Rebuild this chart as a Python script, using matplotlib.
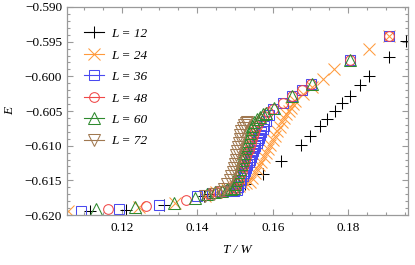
import numpy as np
import matplotlib
matplotlib.use("Agg")
import matplotlib.pyplot as plt
from matplotlib.lines import Line2D
from matplotlib.ticker import MultipleLocator, FuncFormatter

plt.rcParams['font.family'] = ['Liberation Serif', 'DejaVu Serif']
plt.rcParams['font.size'] = 9.5

# data
t12 = [0.1115, 0.1212, 0.1311, 0.1418, 0.1435, 0.1490, 0.1527, 0.1573, 0.1622, 0.1674,
       0.1700, 0.1724, 0.1745, 0.1766, 0.1784, 0.1805, 0.1830, 0.1856, 0.1908, 0.1952]
e12 = [-0.6194, -0.6193, -0.6186, -0.6172, -0.6170, -0.6162, -0.6156, -0.6141, -0.6122, -0.6099,
       -0.6086, -0.6072, -0.6062, -0.6050, -0.6039, -0.6028, -0.6013, -0.5999, -0.5972, -0.5949]

t24 = [0.1058, 0.1245, 0.1340, 0.1420, 0.1450, 0.1480, 0.1500, 0.1510, 0.1520, 0.1530,
       0.1540, 0.1546, 0.1552, 0.1558, 0.1564, 0.1570, 0.1576, 0.1582, 0.1588, 0.1594,
       0.1600, 0.1606, 0.1612, 0.1618, 0.1624, 0.1630, 0.1636, 0.1642, 0.1648, 0.1654,
       0.1660, 0.1680, 0.1705, 0.1733, 0.1763, 0.1856, 0.1907]
e24 = [-0.6194, -0.6189, -0.6182, -0.6172, -0.6167, -0.6163, -0.6160, -0.6158, -0.6156, -0.6154,
       -0.6152, -0.6146, -0.6140, -0.6134, -0.6128, -0.6123, -0.6117, -0.6111, -0.6105, -0.6099,
       -0.6092, -0.6086, -0.6079, -0.6073, -0.6066, -0.6060, -0.6055, -0.6050, -0.6045, -0.6040,
       -0.6035, -0.6025, -0.6015, -0.6004, -0.5990, -0.5960, -0.5942]

t36 = [0.1092, 0.1193, 0.1298, 0.1400, 0.1420, 0.1440, 0.1460, 0.1475, 0.1488, 0.1497,
       0.1505, 0.1509, 0.1513, 0.1517, 0.1521, 0.1524, 0.1527, 0.1530, 0.1533, 0.1536,
       0.1539, 0.1542, 0.1545, 0.1548, 0.1551, 0.1554, 0.1557, 0.1560, 0.1563, 0.1566,
       0.1569, 0.1573, 0.1577, 0.1582, 0.1590, 0.1600, 0.1627, 0.1651, 0.1677, 0.1702,
       0.1806, 0.1907]
e36 = [-0.6194, -0.6192, -0.6185, -0.6173, -0.6171, -0.6168, -0.6166, -0.6165, -0.6164, -0.6165,
       -0.6164, -0.6159, -0.6154, -0.6149, -0.6144, -0.6140, -0.6136, -0.6132, -0.6128, -0.6124,
       -0.6120, -0.6116, -0.6112, -0.6108, -0.6104, -0.6100, -0.6096, -0.6092, -0.6089, -0.6085,
       -0.6081, -0.6076, -0.6071, -0.6065, -0.6056, -0.6047, -0.6038, -0.6029, -0.6019, -0.6011,
       -0.5977, -0.5942]

t48 = [0.1163, 0.1265, 0.1369, 0.1430, 0.1452, 0.1470, 0.1485, 0.1495, 0.1502, 0.1506,
       0.1510, 0.1514, 0.1518, 0.1521, 0.1524, 0.1527, 0.1530, 0.1533, 0.1536, 0.1539,
       0.1542, 0.1545, 0.1548, 0.1551, 0.1554, 0.1558, 0.1563, 0.1569, 0.1576, 0.1588,
       0.1600, 0.1627, 0.1651, 0.1677, 0.1702, 0.1806, 0.1907]
e48 = [-0.6192, -0.6187, -0.6179, -0.6170, -0.6167, -0.6165, -0.6163, -0.6162, -0.6161, -0.6155,
       -0.6149, -0.6142, -0.6136, -0.6131, -0.6126, -0.6121, -0.6116, -0.6111, -0.6106, -0.6101,
       -0.6096, -0.6091, -0.6086, -0.6082, -0.6077, -0.6072, -0.6066, -0.6061, -0.6057, -0.6052,
       -0.6047, -0.6038, -0.6029, -0.6019, -0.6011, -0.5977, -0.5942]

t60 = [0.1133, 0.1236, 0.1338, 0.1393, 0.1425, 0.1448, 0.1465, 0.1480, 0.1490, 0.1497,
       0.1500, 0.1503, 0.1506, 0.1509, 0.1512, 0.1515, 0.1518, 0.1521, 0.1524, 0.1527,
       0.1530, 0.1533, 0.1536, 0.1539, 0.1542, 0.1546, 0.1551, 0.1557, 0.1565, 0.1574,
       0.1582, 0.1603, 0.1651, 0.1704, 0.1806]
e60 = [-0.6192, -0.6189, -0.6182, -0.6176, -0.6170, -0.6167, -0.6165, -0.6163, -0.6162, -0.6161,
       -0.6155, -0.6150, -0.6144, -0.6138, -0.6133, -0.6127, -0.6121, -0.6116, -0.6110, -0.6104,
       -0.6099, -0.6093, -0.6087, -0.6082, -0.6076, -0.6071, -0.6066, -0.6062, -0.6058, -0.6055,
       -0.6053, -0.6045, -0.6029, -0.6011, -0.5977]

t72 = [0.1420, 0.1445, 0.1462, 0.1472, 0.1480, 0.1486, 0.1490, 0.1494, 0.1497, 0.1500,
       0.1502, 0.1504, 0.1506, 0.1508, 0.1510, 0.1512, 0.1514, 0.1517, 0.1520, 0.1524,
       0.1528, 0.1533]
e72 = [-0.6172, -0.6169, -0.6167, -0.6162, -0.6156, -0.6150, -0.6144, -0.6138, -0.6132, -0.6126,
       -0.6120, -0.6114, -0.6108, -0.6102, -0.6096, -0.6090, -0.6084, -0.6079, -0.6074, -0.6070,
       -0.6068, -0.6066]

labels = ['L = 12', 'L = 24', 'L = 36', 'L = 48', 'L = 60', 'L = 72']
markers = ['+', 'x', 's', 'o', '^', 'v']
colors = ['#000000', '#FF9A3C', '#4A4AF0', '#F04848', '#2E8A2E', '#A07850']
sizes = [9, 8, 7, 7, 8, 8]

fig = plt.figure(figsize=(4.15, 2.65), dpi=100)
ax = fig.add_axes([67/415, 1-215/265, (407.5-67)/415, 208/265])

series = [(t12, e12), (t24, e24), (t36, e36), (t48, e48), (t60, e60), (t72, e72)]
handles = []
for (t, e), lab, m, c, s in zip(series, labels, markers, colors, sizes):
    ax.plot(t, e, linestyle='none', marker=m, ms=s, mfc='none', mec=c, mew=0.75)
    handles.append(Line2D([], [], color=c, lw=0.8, marker=m, ms=s, mfc='none', mec=c, mew=0.75))

ax.set_xlim(0.1055, 0.1957)
ax.set_ylim(-0.620, -0.590)
ax.xaxis.set_major_locator(MultipleLocator(0.02))
ax.xaxis.set_minor_locator(MultipleLocator(0.005))
ax.yaxis.set_major_locator(MultipleLocator(0.005))
ax.yaxis.set_minor_locator(MultipleLocator(0.001))
ax.xaxis.set_major_formatter(FuncFormatter(lambda v, p: '%.2f' % v))
ax.yaxis.set_major_formatter(FuncFormatter(lambda v, p: ('%.3f' % v).replace('-', '\u2212')))

grey = '#9a9a9a'
for sp in ax.spines.values():
    sp.set_color(grey)
    sp.set_linewidth(0.9)
ax.tick_params(which='both', direction='in', top=True, right=True, color=grey, width=0.8, labelsize=9.5)
ax.tick_params(which='major', length=4)
ax.tick_params(which='minor', length=2.2)
ax.tick_params(axis='x', pad=5)

ax.set_xlabel('T / W', fontstyle='italic', fontsize=9.5, labelpad=7)
ax.set_ylabel('E', fontstyle='italic', fontsize=9.5, labelpad=6)

leg = ax.legend(handles, labels, loc='upper left', bbox_to_anchor=(0.035, 0.925), frameon=False,
                handlelength=1.5, labelspacing=0.7, borderaxespad=0, handletextpad=0.55,
                prop={'style': 'italic', 'size': 9.5})

fig.savefig('out.png', dpi=100)
